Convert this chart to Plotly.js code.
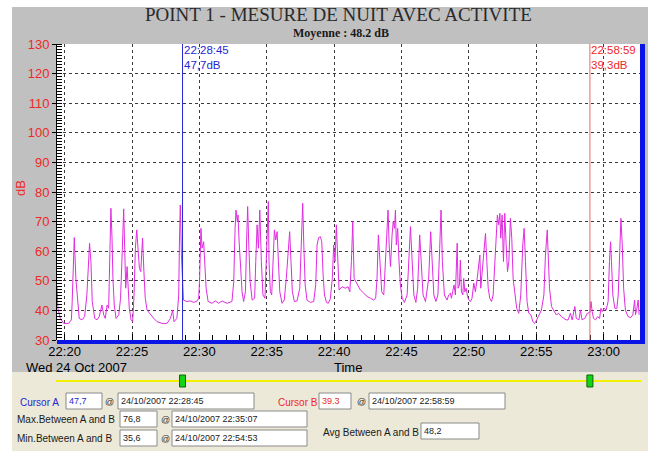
<!DOCTYPE html>
<html><head><meta charset="utf-8">
<script src="https://cdn.plot.ly/plotly-3.0.1.min.js"></script>
<style>html,body{margin:0;padding:0;background:#fff;}#chart{width:648px;height:451px;}</style>
</head><body><div id="chart"></div>
<script>
// ---- data ----
const day = '2007-10-24';
const times = ['22:19:26','22:19:30','22:19:41','22:19:56','22:20:18','22:20:30','22:20:33','22:20:40','22:20:43','22:20:50','22:20:56','22:21:05','22:21:17','22:21:29','22:21:39','22:21:47','22:21:51','22:21:57','22:22:03','22:22:14','22:22:24','22:22:34','22:22:46','22:22:54','22:23:01','22:23:09','22:23:16','22:23:19','22:23:23','22:23:26','22:23:31','22:23:35','22:23:41','22:23:49','22:24:01','22:24:09','22:24:15','22:24:23','22:24:27','22:24:32','22:24:38','22:24:42','22:24:48','22:24:56','22:25:03','22:25:09','22:25:15','22:25:21','22:25:27','22:25:33','22:25:39','22:25:47','22:25:53','22:25:59','22:26:07','22:26:22','22:26:37','22:26:51','22:27:14','22:27:36','22:27:51','22:28:01','22:28:07','22:28:20','22:28:28','22:28:31','22:28:35','22:28:40','22:28:45','22:28:49','22:29:05','22:29:20','22:29:35','22:29:50','22:29:57','22:30:01','22:30:07','22:30:12','22:30:19','22:30:24','22:30:30','22:30:39','22:30:56','22:31:11','22:31:26','22:31:41','22:32:03','22:32:25','22:32:33','22:32:39','22:32:43','22:32:49','22:32:52','22:32:57','22:33:03','22:33:10','22:33:17','22:33:25','22:33:31','22:33:35','22:33:40','22:33:46','22:33:55','22:34:06','22:34:11','22:34:17','22:34:23','22:34:29','22:34:36','22:34:43','22:34:52','22:34:58','22:35:07','22:35:10','22:35:16','22:35:22','22:35:28','22:35:34','22:35:40','22:35:46','22:35:52','22:35:58','22:36:08','22:36:18','22:36:27','22:36:36','22:36:42','22:36:48','22:36:54','22:37:03','22:37:15','22:37:27','22:37:33','22:37:40','22:37:45','22:37:51','22:37:59','22:38:14','22:38:29','22:38:38','22:38:44','22:38:51','22:38:59','22:39:05','22:39:11','22:39:17','22:39:26','22:39:34','22:39:43','22:39:52','22:39:58','22:40:04','22:40:10','22:40:16','22:40:22','22:40:35','22:40:50','22:41:02','22:41:10','22:41:17','22:41:23','22:41:29','22:41:42','22:41:57','22:42:12','22:42:27','22:42:42','22:42:56','22:43:05','22:43:11','22:43:17','22:43:23','22:43:32','22:43:41','22:43:48','22:43:56','22:44:00','22:44:05','22:44:11','22:44:18','22:44:23','22:44:29','22:44:33','22:44:37','22:44:43','22:44:49','22:44:55','22:45:03','22:45:13','22:45:25','22:45:34','22:45:40','22:45:46','22:45:55','22:46:04','22:46:12','22:46:21','22:46:27','22:46:36','22:46:47','22:47:01','22:47:10','22:47:16','22:47:24','22:47:33','22:47:42','22:47:50','22:47:56','22:48:02','22:48:11','22:48:23','22:48:30','22:48:38','22:48:42','22:48:48','22:48:54','22:49:00','22:49:08','22:49:12','22:49:18','22:49:22','22:49:27','22:49:33','22:49:37','22:49:42','22:49:48','22:49:54','22:50:00','22:50:07','22:50:14','22:50:22','22:50:29','22:50:37','22:50:44','22:50:49','22:50:53','22:50:59','22:51:06','22:51:14','22:51:20','22:51:26','22:51:33','22:51:41','22:51:48','22:51:55','22:52:01','22:52:07','22:52:13','22:52:18','22:52:22','22:52:28','22:52:34','22:52:40','22:52:46','22:52:52','22:52:58','22:53:05','22:53:11','22:53:17','22:53:24','22:53:33','22:53:42','22:53:51','22:54:00','22:54:06','22:54:12','22:54:19','22:54:27','22:54:36','22:54:45','22:54:53','22:55:02','22:55:11','22:55:23','22:55:34','22:55:41','22:55:49','22:55:53','22:55:59','22:56:08','22:56:18','22:56:29','22:56:40','22:56:52','22:57:03','22:57:13','22:57:22','22:57:32','22:57:40','22:57:52','22:57:58','22:58:10','22:58:17','22:58:24','22:58:36','22:58:47','22:58:59','22:59:04','22:59:09','22:59:15','22:59:24','22:59:33','22:59:42','22:59:48','22:59:54','23:00:02','23:00:11','23:00:20','23:00:26','23:00:31','23:00:35','23:00:41','23:00:50','23:00:59','23:01:05','23:01:11','23:01:17','23:01:23','23:01:29','23:01:37','23:01:49','23:02:01','23:02:10','23:02:18','23:02:22','23:02:28','23:02:34','23:02:38'];
const levels = [48.0,40.7,37.3,35.6,35.6,36.8,41.8,56.5,64.6,50.8,44.1,37.3,36.8,37.9,45.2,57.6,62.7,56.5,43.0,37.3,36.8,37.9,41.8,38.5,37.3,41.8,40.7,50.8,67.7,74.5,64.4,50.8,41.8,37.3,38.5,44.1,56.5,74.3,62.1,47.5,54.8,47.5,40.7,36.8,36.2,45.2,61.0,67.2,62.1,54.2,53.1,64.4,53.1,44.1,40.1,38.5,37.3,36.2,35.6,35.6,37.3,40.1,36.2,37.3,45.2,62.1,75.6,58.7,47.7,43.5,43.0,43.2,42.7,43.2,44.1,50.8,67.7,61.0,63.2,54.2,47.5,43.0,42.4,43.2,42.4,43.2,42.4,43.0,49.7,67.7,73.9,70.0,72.2,63.2,54.2,46.3,43.0,46.3,65.5,75.1,62.1,49.7,43.5,44.1,56.5,68.9,61.0,73.9,56.5,45.2,44.1,56.5,76.8,56.5,46.3,45.2,58.7,67.2,63.8,66.6,56.5,46.3,42.4,43.5,50.8,61.0,66.6,56.5,46.3,43.0,43.2,47.5,62.1,76.2,62.1,48.6,43.5,42.7,43.0,48.6,62.1,64.6,64.9,63.2,52.0,45.2,42.7,42.4,43.9,50.8,62.1,56.5,68.9,56.5,46.9,48.0,47.5,48.0,46.3,56.5,70.0,50.8,49.2,46.9,45.8,44.7,44.1,43.5,44.1,50.8,65.5,56.5,46.3,45.2,56.5,66.6,73.9,62.1,54.8,65.5,70.0,67.7,73.9,62.1,67.7,56.5,48.6,44.1,42.7,45.2,62.1,68.3,58.7,45.2,42.7,47.5,65.5,56.5,45.2,43.0,50.8,66.6,56.5,45.2,43.0,45.2,61.0,73.9,56.5,45.2,43.5,45.2,45.8,44.1,46.3,48.6,45.2,62.7,47.5,48.6,57.0,46.3,45.2,50.8,46.3,47.5,44.7,43.5,43.0,44.1,49.2,46.3,50.8,55.4,58.7,47.5,53.1,58.7,66.0,56.5,47.5,44.1,43.0,45.2,56.5,66.6,72.2,68.9,72.8,64.4,72.2,56.5,72.8,62.1,53.1,56.5,71.1,64.4,50.8,46.3,40.7,39.0,45.2,62.1,67.7,56.5,43.0,39.0,38.5,36.2,35.6,36.8,38.5,40.1,45.2,58.7,67.2,58.7,47.5,41.3,40.1,38.5,39.0,37.9,37.3,36.8,36.8,39.0,36.8,41.3,37.3,36.8,40.1,36.8,37.3,39.0,39.3,43.0,39.6,37.3,36.8,37.9,37.3,40.7,39.6,40.7,40.1,43.0,56.5,63.2,56.5,45.2,40.7,40.7,45.2,62.1,71.1,62.1,47.5,40.1,37.9,37.6,38.5,43.5,38.5,40.7,43.5,38.5];

const viewRange = ['22:19:26', '23:02:42'];
const tickStart = '22:20:00';
const cursorNames = ['Cursor A', 'Cursor B'];
const cursorTimes = ['22:28:45', '22:58:59'];
const cursorLevels = [47.7, 39.3];
const cursorBoxText = ['47,7', '39.3'];
const statNames = ['Max.Between A and B', 'Min.Between A and B'];
const statLevels = ['76,8', '35,6'];
const statTimes = ['22:35:07', '22:54:53'];
const avgLabel = 'Avg Between A and B';
const avgValue = '48,2';
const dateLabel = '24/10/2007';
const chartTitle = 'POINT 1 - MESURE DE NUIT AVEC ACTIVITE';
const subTitle = 'Moyenne : 48.2 dB';

// ---- layout helpers (pixel -> paper) ----
const L = 57, R = 640, T = 44, B = 340;
const px = x => (x - L) / (R - L);
const py = y => (B - y) / (B - T);
const full = t => day + ' ' + t;

const blue = '#2626d4', red = '#f02828', gray = '#c0c0c0', beige = '#ece9d8';
const sans = 'Liberation Sans, Arial, sans-serif';
const serif = 'Liberation Serif, Times New Roman, serif';

const trace = {
  x: times.map(full), y: levels, type: 'scatter', mode: 'lines',
  line: {color: '#e02ce0', width: 1}, hoverinfo: 'skip'
};

const shapes = [];
const annotations = [];
function rect(x0, x1, y0, y1, fill, line, layer) {
  shapes.push({type: 'rect', xref: 'paper', yref: 'paper', x0: px(x0), x1: px(x1), y0: py(y1), y1: py(y0),
    fillcolor: fill, line: line || {width: 0}, layer: layer || 'below'});
}
function text(x, y, s, opt) {
  opt = opt || {};
  annotations.push(Object.assign({xref: 'paper', yref: 'paper', x: px(x), y: py(y), text: s, showarrow: false,
    xanchor: 'left', yanchor: 'middle', borderpad: 0, font: {size: 10, color: '#1a1a1a', family: sans}}, opt));
}
function field(x0, x1, yc, s, color) {
  rect(x0, x1, yc - 8, yc + 8, '#ffffff', {color: '#8a8a8a', width: 1});
  text(x0 + 2, yc, s, {font: {size: 9, color: color || '#1a1a1a', family: sans}});
}

// backgrounds
rect(12, 648, 372, 451, beige);
rect(0, 648, 0, 7, '#ffffff');
rect(0, 12, 0, 451, '#ffffff');
// blue frame bars
rect(57, 645, 340, 344, '#0a14e6', null, 'above');
rect(640, 645, 44, 344, '#0a14e6', null, 'above');

// cursors
const cursorColors = [blue, '#e86a6a'];
const labelColors = [blue, red];
cursorTimes.forEach((t, i) => {
  shapes.push({type: 'line', xref: 'x', yref: 'paper', x0: full(t), x1: full(t), y0: 0, y1: 1,
    line: {color: cursorColors[i], width: 1}, layer: 'above'});
  annotations.push({xref: 'x', yref: 'paper', x: full(t), y: py(43), showarrow: false,
    text: t + '<br>' + cursorLevels[i].toFixed(1).replace('.', ',') + 'dB',
    xanchor: 'left', yanchor: 'top', align: 'left', borderpad: 0, font: {size: 11.5, color: labelColors[i], family: sans}});
  // slider handle
  shapes.push({type: 'rect', xref: 'x', yref: 'paper', xsizemode: 'pixel', xanchor: full(t), x0: -3, x1: 3,
    y0: py(387), y1: py(375), fillcolor: '#14d214', line: {color: '#0a640a', width: 1}, layer: 'above'});
});
// slider line
shapes.push({type: 'line', xref: 'paper', yref: 'paper', x0: px(56), x1: px(641), y0: py(381), y1: py(381),
  line: {color: '#f2f200', width: 2}, layer: 'below'});

// titles
text(338, 15, chartTitle, {xanchor: 'center', font: {size: 19, color: '#2a2a2a', family: serif}});
text(341, 33, '<b>' + subTitle + '</b>', {xanchor: 'center', font: {size: 12, color: '#1a1a1a', family: serif}});
text(20, 188, 'dB', {xanchor: 'center', textangle: -90, font: {size: 13, color: red, family: sans}});
text(25, 367, 'Wed 24 Oct 2007', {font: {size: 13, color: '#000', family: sans}});
text(348, 367, 'Time', {xanchor: 'center', font: {size: 13, color: '#000', family: sans}});

// bottom panel
text(19, 402, cursorNames[0], {font: {size: 10, color: blue, family: sans}});
field(66, 102, 401, cursorBoxText[0], blue);
text(104, 402, '@', {font: {size: 9, color: '#333', family: sans}});
field(118, 254, 401, dateLabel + ' ' + cursorTimes[0]);
text(277, 402, cursorNames[1], {font: {size: 10, color: red, family: sans}});
field(319, 351, 401, cursorBoxText[1], red);
text(356, 402, '@', {font: {size: 9, color: '#333', family: sans}});
field(369, 505, 401, dateLabel + ' ' + cursorTimes[1]);
[419, 438].forEach((yc, i) => {
  text(16, yc, statNames[i]);
  field(120, 157, yc, statLevels[i]);
  text(160, yc + 1, '@', {font: {size: 9, color: '#333', family: sans}});
  field(172, 307, yc, dateLabel + ' ' + statTimes[i]);
});
text(322, 432, avgLabel);
field(421, 479, 431, avgValue);

const layout = {
  width: 648, height: 451,
  margin: {l: 57, r: 8, t: 44, b: 111, pad: 0},
  paper_bgcolor: gray, plot_bgcolor: '#ffffff',
  font: {family: sans},
  showlegend: false,
  xaxis: {
    type: 'date', range: viewRange.map(full), tick0: full(tickStart), dtick: 300000, tickformat: '%H:%M',
    ticks: 'inside', ticklen: 6, tickcolor: '#000', ticklabelstandoff: 2,
    tickfont: {size: 13, color: '#000'},
    showgrid: true, gridcolor: '#3c3c3c', griddash: '3px,3px', gridwidth: 1,
    showline: false, zeroline: false,
    minor: {dtick: 60000, ticks: 'inside', ticklen: 5, tickcolor: '#000', showgrid: false}
  },
  yaxis: {
    range: [30, 130], dtick: 10, tick0: 30,
    ticks: 'outside', ticklen: 4, tickcolor: '#000',
    tickfont: {size: 13, color: red},
    showgrid: true, gridcolor: '#3c3c3c', griddash: '3px,3px', gridwidth: 1,
    showline: true, linecolor: '#000', linewidth: 1, zeroline: false,
    minor: {dtick: 1, ticks: 'inside', ticklen: 5, tickcolor: '#000', showgrid: false}
  },
  shapes: shapes, annotations: annotations
};

Plotly.newPlot('chart', [trace], layout, {staticPlot: true, displayModeBar: false});
</script>
</body></html>
